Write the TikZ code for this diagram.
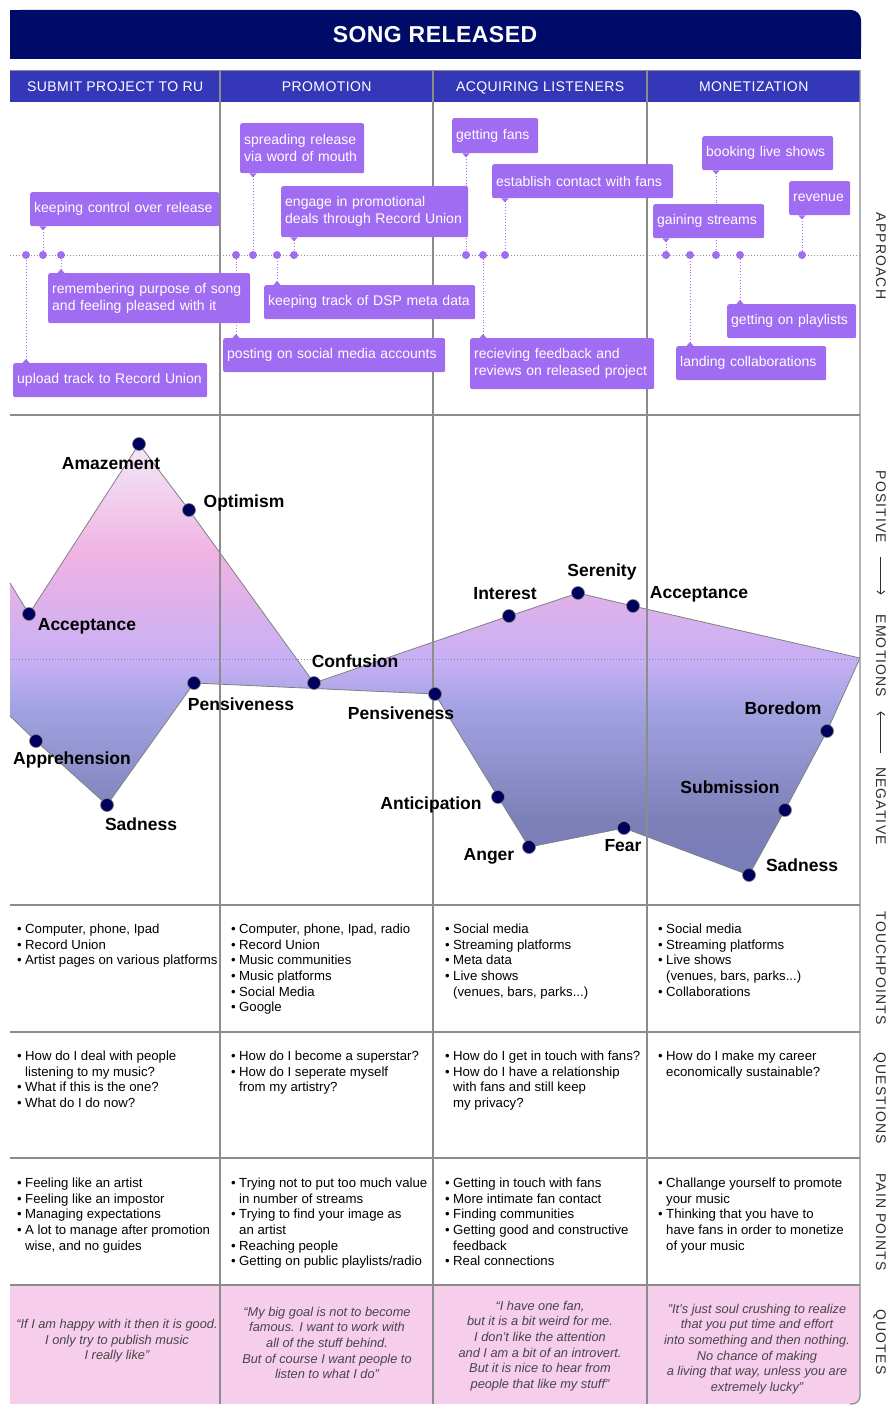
\documentclass[tikz,border=0pt]{standalone}
\usepackage{fontspec}
\setmainfont{Liberation Sans}
\newfontfamily\titlefont[LetterSpace=2]{Liberation Sans}
\newfontfamily\headfont[LetterSpace=3]{Liberation Sans}
\newfontfamily\sidefont[LetterSpace=8]{Liberation Sans}
\usepackage{tikz}
\usetikzlibrary{arrows.meta,backgrounds,positioning}

\definecolor{titlenavy}{RGB}{0,10,105}
\definecolor{headblue}{RGB}{52,56,184}
\definecolor{bubblepurple}{RGB}{160,108,242}
\definecolor{quotepink}{RGB}{247,205,236}
\definecolor{gridgray}{RGB}{140,140,140}
\definecolor{dotnavy}{RGB}{0,0,95}
\definecolor{rowgray}{RGB}{45,45,45}
\definecolor{quotegray}{RGB}{70,70,70}

% emotion fill, bottom to top
\pgfdeclareverticalshading{emofade}{100bp}{rgb(0bp)=(0.47,0.49,0.72); rgb(25bp)=(0.47,0.49,0.72); rgb(31.4bp)=(0.49,0.50,0.72); rgb(44.7bp)=(0.64,0.64,0.89); rgb(49.9bp)=(0.78,0.69,0.96); rgb(62.1bp)=(0.94,0.70,0.89); rgb(75bp)=(0.95,0.91,0.97); rgb(100bp)=(0.95,0.91,0.97)}

\newcommand{\bul}{\makebox[8pt][l]{\textbullet}}
\newcommand{\ind}{\hspace*{8pt}}

\tikzset{
  titletext/.style={text=white, font=\titlefont\bfseries\fontsize{23}{28}\selectfont, inner sep=0pt},
  phase/.style={fill=headblue, text=white, font=\headfont\fontsize{14}{16}\selectfont, text height=10pt, text depth=0pt, minimum height=32pt, anchor=north west, inner sep=0pt},
  gridline/.style={gridgray, line width=1.2pt},
  midline/.style={gridgray, line width=0.8pt, dash pattern=on 1.2pt off 1.8pt},
  bubble/.style={fill=bubblepurple, rounded corners=2pt, text=white, font=\fontsize{14}{17}\selectfont, align=left, inner xsep=4pt, anchor=north west},
  adot/.style={circle, fill=bubblepurple, inner sep=0pt, minimum size=8pt},
  conn/.style={bubblepurple, line width=0.9pt, dotted, {Triangle[reversed,width=7pt,length=4pt]}-},
  emodot/.style={circle, fill=dotnavy, draw=gray, line width=0.6pt, inner sep=0pt, minimum size=13pt},
  emoline/.style={gray, line width=0.8pt},
  emolabel/.style={font=\bfseries\fontsize{17.5}{20}\selectfont, text height=12.5pt, text depth=0pt, inner sep=0pt},
  tcell/.style={font=\fontsize{13.2}{15.6}\selectfont, align=left, anchor=north west, inner sep=0pt},
  quotecell/.style={font=\itshape\fontsize{12.8}{15.6}\selectfont, align=center, text=quotegray, inner sep=0pt},
  rowlabel/.style={font=\sidefont\fontsize{14}{16}\selectfont, text=rowgray, rotate=-90, anchor=base, inner sep=0pt},
  rowarrow/.style={rowgray, line width=0.9pt, -{Straight Barb[length=3pt,width=8pt]}}
}

\begin{document}
\begin{tikzpicture}[x=1pt, y=-1pt]
	\useasboundingbox (0,0) rectangle (886,1407);
	% title bar
	\fill[titlenavy, rounded corners=10pt] (10,10) rectangle (861,59);
	\fill[titlenavy] (10,10) rectangle (845,59);
	\fill[titlenavy] (10,25) rectangle (861,59);
	\node[titletext] (title) at (435,35) {SONG RELEASED};
	% phase headers
	\node[phase, minimum width=210pt] (h1) at (10,70) {SUBMIT PROJECT TO RU};
	\node[phase, minimum width=213pt] (h2) at (220,70) {PROMOTION};
	\node[phase, minimum width=214pt] (h3) at (433,70) {ACQUIRING LISTENERS};
	\node[phase, minimum width=213pt] (h4) at (647,70) {MONETIZATION};
	% quotes row background
	\fill[quotepink, rounded corners=8pt] (10,1285) rectangle (860,1404);
	\fill[quotepink] (10,1285) rectangle (850,1404);
	\fill[quotepink] (10,1285) rectangle (860,1394);
	% grid lines
	\draw[gridgray, line width=0.8pt] (10,70) -- (860,70);
	\foreach \x in {220,433,647}
		\draw[gridline] (\x,70) -- (\x,1404);
	\draw[gridline, rounded corners=8pt] (860,70) -- (860,1404) -- (850,1404);
	\foreach \y in {415,905,1032,1158,1285}
		\draw[gridline] (10,\y) -- (860,\y);
	% dotted middle lines
	\draw[midline] (10,255) -- (860,255);
	\draw[midline] (10,659) -- (860,659);

	% emotion points
	\node[emodot] (eAcc) at (29,614) {};
	\node[emodot] (eAma) at (139,444) {};
	\node[emodot] (eOpt) at (189,510) {};
	\node[emodot] (eCon) at (314,683) {};
	\node[emodot] (eInt) at (509,616) {};
	\node[emodot] (eSer) at (578,593) {};
	\node[emodot] (eAcc2) at (633,606) {};
	\node[emodot] (eBor) at (827,731) {};
	\node[emodot] (eSub) at (785,810) {};
	\node[emodot] (eSad2) at (749,875) {};
	\node[emodot] (eFea) at (624,828) {};
	\node[emodot] (eAng) at (529,847) {};
	\node[emodot] (eAnt) at (498,797) {};
	\node[emodot] (ePen2) at (435,694) {};
	\node[emodot] (ePen1) at (194,683) {};
	\node[emodot] (eSad) at (107,805) {};
	\node[emodot] (eApp) at (36,741) {};
	% emotion labels
	\node[emolabel] (tAcc) at (87,624) {Acceptance};
	\node[emolabel] (tAma) at (111,463) {Amazement};
	\node[emolabel] (tOpt) at (244,501) {Optimism};
	\node[emolabel] (tCon) at (355,661) {Confusion};
	\node[emolabel] (tPen1) at (241,704) {Pensiveness};
	\node[emolabel] (tApp) at (72,758) {Apprehension};
	\node[emolabel] (tSad) at (141,824) {Sadness};
	\node[emolabel] (tPen2) at (401,713) {Pensiveness};
	\node[emolabel] (tInt) at (505,593) {Interest};
	\node[emolabel] (tSer) at (602,570) {Serenity};
	\node[emolabel] (tAcc2) at (699,592) {Acceptance};
	\node[emolabel] (tBor) at (783,708) {Boredom};
	\node[emolabel] (tSub) at (730,787) {Submission};
	\node[emolabel] (tSad2) at (802,865) {Sadness};
	\node[emolabel] (tFea) at (623,845) {Fear};
	\node[emolabel] (tAng) at (489,854) {Anger};
	\node[emolabel] (tAnt) at (431,803) {Anticipation};

	% approach dots on the line
	\foreach \n/\x in {1/43,2/61,3/26,4/253,5/294,6/277,7/236,8/466,9/505,10/483,11/716,12/666,13/802,14/740,15/690}
		\node[adot] (d\n) at (\x,255) {};
	% approach bubbles
	\node[bubble, text width=181pt, minimum height=34pt] (b1) at (30,192) {keeping control over release};
	\node[bubble, text width=194pt, minimum height=50pt] (b2) at (48,273) {remembering purpose of song\\and feeling pleased with it};
	\node[bubble, text width=186pt, minimum height=34pt] (b3) at (13,363) {upload track to Record Union};
	\node[bubble, text width=116pt, minimum height=50pt] (b4) at (240,123) {spreading release\\via word of mouth};
	\node[bubble, text width=179pt, minimum height=51pt] (b5) at (281,186) {engage in promotional\\deals through Record Union};
	\node[bubble, text width=203pt, minimum height=34pt] (b6) at (264,285) {keeping track of DSP meta data};
	\node[bubble, text width=214pt, minimum height=34pt] (b7) at (223,338) {posting on social media accounts};
	\node[bubble, text width=78pt, minimum height=35pt] (b8) at (452,118) {getting fans};
	\node[bubble, text width=173pt, minimum height=34pt] (b9) at (492,164) {establish contact with fans};
	\node[bubble, text width=176pt, minimum height=51pt] (b10) at (470,338) {recieving feedback and\\reviews on released project};
	\node[bubble, text width=123pt, minimum height=34pt] (b11) at (702,136) {booking live shows};
	\node[bubble, text width=103pt, minimum height=34pt] (b12) at (653,204) {gaining streams};
	\node[bubble, text width=53pt, minimum height=34pt] (b13) at (789,181) {revenue};
	\node[bubble, text width=121pt, minimum height=34pt] (b14) at (727,304) {getting on playlists};
	\node[bubble, text width=142pt, minimum height=34pt] (b15) at (676,346) {landing collaborations};

	\begin{scope}[on background layer]
		% emotion curve
		\coordinate (eL1) at (10,583);
		\coordinate (eL2) at (10,716);
		\coordinate (eR) at (860,658);
		\shade[shading=emofade] (eL1) -- (eAcc.center) -- (eAma.center) -- (eOpt.center) -- (eCon.center) -- (eInt.center) -- (eSer.center) -- (eAcc2.center) -- (eR) -- (eBor.center) -- (eSub.center) -- (eSad2.center) -- (eFea.center) -- (eAng.center) -- (eAnt.center) -- (ePen2.center) -- (ePen1.center) -- (eSad.center) -- (eApp.center) -- (eL2) -- cycle;
		\draw[emoline] (eL1) -- (eAcc.center) -- (eAma.center) -- (eOpt.center) -- (eCon.center) -- (eInt.center) -- (eSer.center) -- (eAcc2.center) -- (eR) -- (eBor.center) -- (eSub.center) -- (eSad2.center) -- (eFea.center) -- (eAng.center) -- (eAnt.center) -- (ePen2.center) -- (ePen1.center) -- (eSad.center) -- (eApp.center) -- (eL2);
		% bubble pointers
		\foreach \n in {1,4,5,8,9,11,12,13}
			\draw[conn] (b\n.south -| d\n) -- (d\n);
		\foreach \n in {2,3,6,7,10,14,15}
			\draw[conn] (b\n.north -| d\n) -- (d\n);
	\end{scope}

	% touchpoints
	\node[tcell] (tp1) at (17,924) {\bul Computer, phone, Ipad\\\bul Record Union\\\bul Artist pages on various platforms};
	\node[tcell] (tp2) at (231,924) {\bul Computer, phone, Ipad, radio\\\bul Record Union\\\bul Music communities\\\bul Music platforms\\\bul Social Media\\\bul Google};
	\node[tcell] (tp3) at (445,924) {\bul Social media\\\bul Streaming platforms\\\bul Meta data\\\bul Live shows\\\ind(venues, bars, parks...)};
	\node[tcell] (tp4) at (658,924) {\bul Social media\\\bul Streaming platforms\\\bul Live shows\\\ind(venues, bars, parks...)\\\bul Collaborations};
	% questions
	\node[tcell] (q1) at (17,1051) {\bul How do I deal with people\\\ind listening to my music?\\\bul What if this is the one?\\\bul What do I do now?};
	\node[tcell] (q2) at (231,1051) {\bul How do I become a superstar?\\\bul How do I seperate myself\\\ind from my artistry?};
	\node[tcell] (q3) at (445,1051) {\bul How do I get in touch with fans?\\\bul How do I have a relationship\\\ind with fans and still keep\\\ind my privacy?};
	\node[tcell] (q4) at (658,1051) {\bul How do I make my career\\\ind economically sustainable?};
	% pain points
	\node[tcell] (pp1) at (17,1178) {\bul Feeling like an artist\\\bul Feeling like an impostor\\\bul Managing expectations\\\bul A lot to manage after promotion\\\ind wise, and no guides};
	\node[tcell] (pp2) at (231,1178) {\bul Trying not to put too much value\\\ind in number of streams\\\bul Trying to find your image as\\\ind an artist\\\bul Reaching people\\\bul Getting on public playlists/radio};
	\node[tcell] (pp3) at (445,1178) {\bul Getting in touch with fans\\\bul More intimate fan contact\\\bul Finding communities\\\bul Getting good and constructive\\\ind feedback\\\bul Real connections};
	\node[tcell] (pp4) at (658,1178) {\bul Challange yourself to promote\\\ind your music\\\bul Thinking that you have to\\\ind have fans in order to monetize\\\ind of your music};
	% quotes
	\node[quotecell] (qt1) at (117,1341) {“If I am happy with it then it is good.\\I only try to publish music\\I really like”};
	\node[quotecell] (qt2) at (327,1343) {“My big goal is not to become\\famous. I want to work with\\all of the stuff behind.\\But of course I want people to\\listen to what I do”};
	\node[quotecell] (qt3) at (540,1346) {“I have one fan,\\but it is a bit weird for me.\\I don’t like the attention\\and I am a bit of an introvert.\\But it is nice to hear from\\people that like my stuff\char"22};
	\node[quotecell] (qt4) at (757,1349) {\char"22 It\char"27 s just soul crushing to realize\\that you put time and effort\\into something and then nothing.\\No chance of making\\a living that way, unless you are\\extremely lucky\char"22};

	% row labels on the right
	\node[rowlabel] (lapp) at (876,256) {APPROACH};
	\node[rowlabel] (lpos) at (876,507) {POSITIVE};
	\node[rowlabel] (lemo) at (876,656) {EMOTIONS};
	\node[rowlabel] (lneg) at (876,806) {NEGATIVE};
	\node[rowlabel] (ltou) at (876,968) {TOUCHPOINTS};
	\node[rowlabel] (lque) at (876,1098) {QUESTIONS};
	\node[rowlabel] (lpai) at (876,1222) {PAIN POINTS};
	\node[rowlabel] (lquo) at (876,1342) {QUOTES};
	\draw[rowarrow, shorten <=14pt, shorten >=20pt] (lpos.east) -- (lemo.west);
	\draw[rowarrow, shorten <=14pt, shorten >=14pt] (lneg.west) -- (lemo.east);
\end{tikzpicture}
\end{document}
